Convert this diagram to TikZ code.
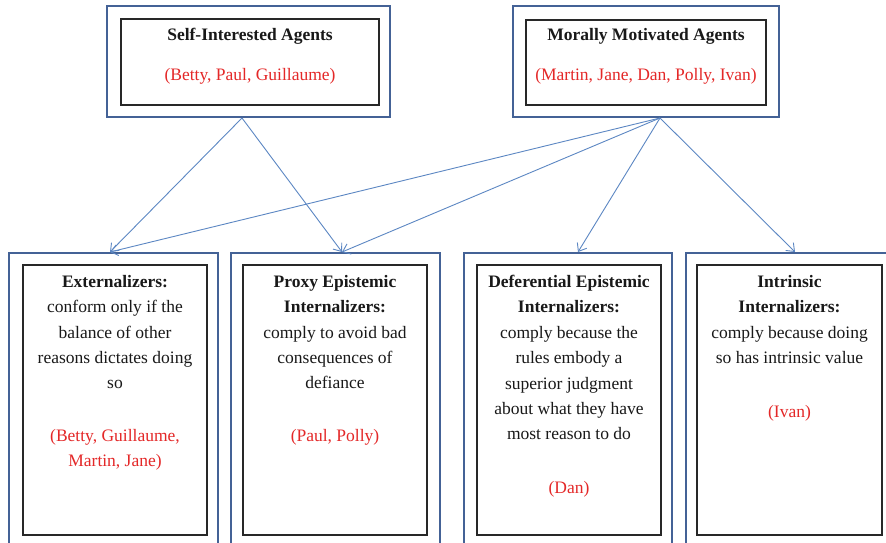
\documentclass[tikz,border=0pt]{standalone}
\usepackage{fontspec}
\setmainfont{Liberation Serif}
\usetikzlibrary{arrows.meta}
\definecolor{outerblue}{RGB}{68,98,150}
\definecolor{arrowblue}{RGB}{92,135,195}
\definecolor{namered}{RGB}{228,40,40}
\definecolor{ink}{RGB}{25,25,25}
\definecolor{innerline}{RGB}{40,40,40}
\tikzset{
  outerbox/.style={draw=outerblue, line width=2.2pt, inner sep=0pt},
  innerbox/.style={draw=innerline, line width=1.1pt, inner sep=0pt, fill=white},
  boxtext/.style={align=center, inner sep=0pt, anchor=north, text=ink,
    font=\fontsize{17.5}{25.4}\selectfont},
  toptext/.style={inner sep=0pt, anchor=base, text=ink,
    font=\fontsize{17.5}{25.4}\selectfont},
  link/.style={draw=arrowblue, line width=0.9pt, -{Straight Barb[length=7pt,width=11pt]}}
}
\newcommand{\who}[1]{\textcolor{namered}{#1}}
\begin{document}
\begin{tikzpicture}[x=1pt,y=-1pt]
\useasboundingbox (0,0) rectangle (886,543);
\clip (0,0) rectangle (886,543);
\fill[white] (0,0) rectangle (886,543);

% top boxes
\node[outerbox, minimum width=283pt, minimum height=111pt] (siout) at (248.5,61.5) {};
\node[innerbox, minimum width=258pt, minimum height=86pt] (siin) at (250,62) {};
\node[toptext] (sititle) at (250,41) {\bfseries Self-Interested Agents};
\node[toptext] (sinames) at (250,81) {\who{(Betty, Paul, Guillaume)}};

\node[outerbox, minimum width=266pt, minimum height=111pt] (mmout) at (646,61.5) {};
\node[innerbox, minimum width=240pt, minimum height=85pt] (mmin) at (646,62.5) {};
\node[toptext] (mmtitle) at (646,41) {\bfseries Morally Motivated Agents};
\node[toptext] (mmnames) at (646,81) {\who{(Martin, Jane, Dan, Polly, Ivan)}};

% bottom boxes
\node[outerbox, minimum width=209pt, minimum height=307pt] (exout) at (113.5,406.5) {};
\node[innerbox, minimum width=184pt, minimum height=270pt] (exin) at (115,400) {};
\node[boxtext] (extext) at (115,275) {\bfseries Externalizers:\\conform only if the\\balance of other\\reasons dictates doing\\so\\[27pt]\who{(Betty, Guillaume,}\\\who{Martin, Jane)}};

\node[outerbox, minimum width=209pt, minimum height=307pt] (prout) at (335.5,406.5) {};
\node[innerbox, minimum width=184pt, minimum height=270pt] (prin) at (335,400) {};
\node[boxtext] (prtext) at (335,275) {\bfseries Proxy Epistemic\\\bfseries Internalizers:\\comply to avoid bad\\consequences of\\defiance\\[27pt]\who{(Paul, Polly)}};

\node[outerbox, minimum width=208pt, minimum height=307pt] (deout) at (568,406.5) {};
\node[innerbox, minimum width=184pt, minimum height=270pt] (dein) at (569,400) {};
\node[boxtext] (detext) at (569,275) {\bfseries Deferential Epistemic\\\bfseries Internalizers:\\comply because the\\rules embody a\\superior judgment\\about what they have\\most reason to do\\[28pt]\who{(Dan)}};

\node[outerbox, minimum width=219pt, minimum height=307pt] (inout) at (795.5,406.5) {};
\node[innerbox, minimum width=185pt, minimum height=270pt] (inin) at (789.5,400) {};
\node[boxtext] (intext) at (789.5,275) {\bfseries Intrinsic\\\bfseries Internalizers:\\comply because doing\\so has intrinsic value\\[29pt]\who{(Ivan)}};

% connector end points
\coordinate (sifoot) at (242,118);
\coordinate (mmfoot) at (660,118);
\coordinate (exhead) at (110,252);
\coordinate (prhead) at (342,252);
\coordinate (dehead) at (578,252);
\coordinate (inhead) at (795,252);

\draw[link] (sifoot) -- (exhead);
\draw[link] (sifoot) -- (prhead);
\draw[link] (mmfoot) -- (exhead);
\draw[link] (mmfoot) -- (prhead);
\draw[link] (mmfoot) -- (dehead);
\draw[link] (mmfoot) -- (inhead);
\end{tikzpicture}
\end{document}
